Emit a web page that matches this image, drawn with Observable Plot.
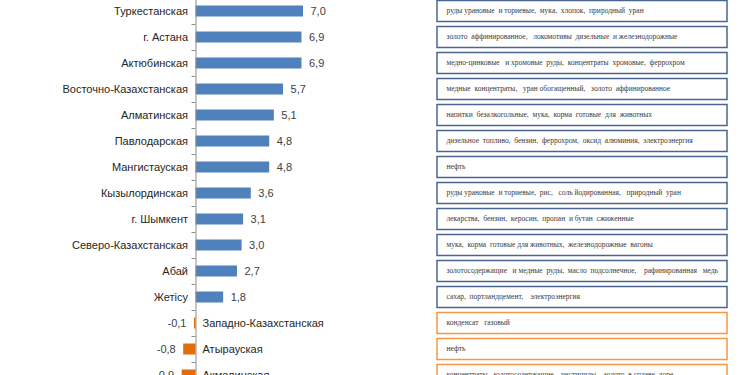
<!DOCTYPE html>
<html>
<head>
<meta charset="utf-8">
<script src="https://cdn.jsdelivr.net/npm/d3@7"></script>
<script src="https://cdn.jsdelivr.net/npm/@observablehq/plot@0.6"></script>
<style>
  html, body { margin: 0; padding: 0; background: #fff; overflow: hidden; }
  #wrap { position: relative; width: 750px; height: 375px; }
  #wrap svg { position: absolute; left: 0; top: 0; }
</style>
</head>
<body>
<div id="wrap"></div>
<script>
const regions = [
  "Туркестанская", "г. Астана", "Актюбинская", "Восточно-Казахстанская",
  "Алматинская", "Павлодарская", "Мангистауская", "Кызылординская",
  "г. Шымкент", "Северо-Казахстанская", "Абай", "Жетісу",
  "Западно-Казахстанская", "Атырауская", "Акмолинская"
];
const values = [7.0, 6.9, 6.9, 5.7, 5.1, 4.8, 4.8, 3.6, 3.1, 3.0, 2.7, 1.8, -0.1, -0.8, -0.9];
const exports = [
  "руды урановые  и ториевые,  мука,  хлопок,  природный  уран",
  "золото  аффинированное,   локомотивы  дизельные  и железнодорожные",
  "медно-цинковые   и хромовые  руды,  концентраты  хромовые,  феррохром",
  "медные  концентраты,   уран обогащенный,   золото  аффинированное",
  "напитки  безалкогольные,  мука,  корма  готовые  для  животных",
  "дизельное  топливо,  бензин,  феррохром,  оксид  алюминия,  электроэнергия",
  "нефть",
  "руды урановые  и ториевые,  рис,   соль йодированная,   природный  уран",
  "лекарства,  бензин,  керосин,  пропан  и бутан  сжиженные",
  "мука,  корма  готовые для животных,  железнодорожные  вагоны",
  "золотосодержащие   и медные  руды,  масло  подсолнечное,    рафинированная   медь",
  "сахар,  портландцемент,    электроэнергия",
  "конденсат   газовый",
  "нефть",
  "концентраты   золотосодержащие,   пестициды,   золото  в сплаве  доре"
];

const data = regions.map((r, i) => ({region: r, value: values[i], text: exports[i]}));
const pos = data.filter(d => d.value >= 0);
const neg = data.filter(d => d.value < 0);
const fmt = v => v.toFixed(1).replace(".", ",");
const BLUE = "#4f81bd", ORANGE = "#e46c0a";
const BOX_BLUE = "#4b6591", BOX_ORANGE = "#f79646";
const yScale = {domain: regions, range: [-2, 388], padding: 0};

const chart = Plot.plot({
  width: 750,
  height: 375,
  marginLeft: 195.5,
  marginRight: 447,
  marginTop: 0,
  marginBottom: 0,
  style: {fontFamily: "'Liberation Sans', Arial, sans-serif", fontSize: "11px", background: "transparent"},
  x: {domain: [0, 7], axis: null},
  y: {...yScale, axis: null},
  marks: [
    Plot.barX(data, {
      y: "region", x1: 0, x2: "value",
      fill: d => d.value < 0 ? ORANGE : BLUE,
      insetTop: 7.5, insetBottom: 7.5
    }),
    Plot.ruleX([0], {stroke: "#8c8c8c", strokeWidth: 1}),
    Plot.axisY({anchor: "left", tickSize: 4, tickFormat: () => "", label: null, stroke: "#8c8c8c", dy: -13}),
    Plot.text(pos, {y: "region", x: 0, text: "region", textAnchor: "end", dx: -8, fill: "#262626", fontSize: 11}),
    Plot.text(neg, {y: "region", x: 0, text: "region", textAnchor: "start", dx: 6.5, fill: "#262626", fontSize: 11}),
    Plot.text(pos, {y: "region", x: "value", text: d => fmt(d.value), textAnchor: "start", dx: 7, fill: "#404040", fontSize: 11}),
    Plot.text(neg, {y: "region", x: "value", text: d => fmt(d.value), textAnchor: "end", dx: -8, fill: "#404040", fontSize: 11})
  ]
});

const boxes = Plot.plot({
  width: 750,
  height: 375,
  marginLeft: 0, marginRight: 0, marginTop: 0, marginBottom: 0,
  style: {fontFamily: "'Liberation Serif', 'Times New Roman', serif", background: "transparent"},
  x: {domain: [0, 1], range: [437, 727], axis: null},
  y: {...yScale, axis: null},
  marks: [
    Plot.barX(data, {
      y: "region", x1: 0, x2: 1,
      fill: "white",
      stroke: d => d.value < 0 ? BOX_ORANGE : BOX_BLUE,
      strokeWidth: 1.5,
      insetTop: 2.5, insetBottom: 2.5
    }),
    Plot.text(data, {
      y: "region", x: 0,
      text: "text",
      textAnchor: "start",
      dx: 9, dy: -1,
      fill: "#3a3a3a",
      fontSize: 7.5
    })
  ]
});

const wrap = document.getElementById("wrap");
wrap.appendChild(chart);
wrap.appendChild(boxes);
</script>
</body>
</html>
